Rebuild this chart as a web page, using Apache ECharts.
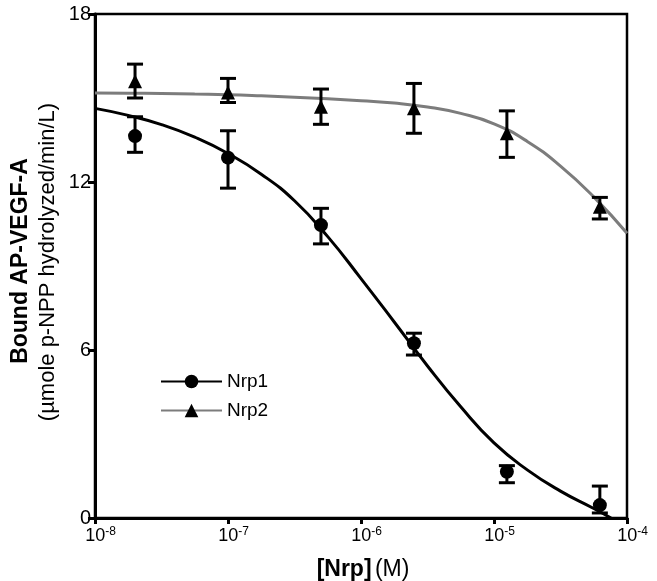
<!DOCTYPE html>
<html><head><meta charset="utf-8">
<script src="https://cdn.jsdelivr.net/npm/echarts@6/dist/echarts.min.js"></script>
<style>html,body{margin:0;padding:0;background:#fff}#c{width:657px;height:581px}</style>
</head><body><div id="c"></div>
<script>
// ---- data ----
const concentrations = [2e-8, 1e-7, 5e-7, 2.5e-6, 1.25e-5, 6.25e-5];
const nrp1Mean  = [13.64, 12.87, 10.46, 6.24, 1.65, 0.46];
const nrp1Upper = [14.33, 13.83, 11.06, 6.60, 1.87, 1.14];
const nrp1Lower = [13.06, 11.78, 9.79, 5.82, 1.26, 0.18];
const nrp2Mean  = [15.60, 15.20, 14.69, 14.63, 13.74, 11.12];
const nrp2Upper = [16.21, 15.70, 15.32, 15.52, 14.54, 11.45];
const nrp2Lower = [15.00, 14.84, 14.06, 13.74, 12.88, 10.68];
// fitted curves (x as powers of ten)
const nrp1FitExp = [-8, -7.75, -7.5, -7.25, -7, -6.75, -6.5, -6.25, -6, -5.75, -5.5, -5.25, -5, -4.75, -4.5, -4.25, -4.12];
const nrp1FitY   = [14.63, 14.38, 14.05, 13.6, 13.02, 12.28, 11.33, 10.05, 8.55, 7.0, 5.43, 3.97, 2.68, 1.72, 0.96, 0.34, 0];
const nrp2FitExp = [-8, -7.75, -7.5, -7.25, -7, -6.75, -6.5, -6.25, -6, -5.75, -5.5, -5.25, -5, -4.75, -4.5, -4.25, -4];
const nrp2FitY   = [15.18, 15.17, 15.16, 15.14, 15.12, 15.08, 15.03, 14.97, 14.9, 14.82, 14.68, 14.45, 14.08, 13.45, 12.57, 11.47, 10.17];
const xTickExp = [-8, -7, -6, -5, -4];
const xTickSup = ['-8', '-7', '-6', '-5', '-4'];
const yTicks = [0, 6, 12, 18];
const seriesNames = ['Nrp1', 'Nrp2'];

const FONT = 'Liberation Sans, Arial, Helvetica, sans-serif';
const GRAY = '#7c7c7c';

function errSeries(name, lower, upper) {
  return {
    type: 'custom', name: name, z: 4,
    data: concentrations.map((c, i) => [c, lower[i], upper[i]]),
    renderItem: function (params, api) {
      const x = api.value(0);
      const lo = api.coord([x, api.value(1)]);
      const hi = api.coord([x, api.value(2)]);
      const hw = 8;
      const st = { stroke: '#000', lineWidth: 3 };
      return { type: 'group', children: [
        { type: 'line', shape: { x1: lo[0], y1: lo[1], x2: hi[0], y2: hi[1] }, style: st },
        { type: 'line', shape: { x1: lo[0] - hw, y1: lo[1], x2: lo[0] + hw, y2: lo[1] }, style: st },
        { type: 'line', shape: { x1: hi[0] - hw, y1: hi[1], x2: hi[0] + hw, y2: hi[1] }, style: st }
      ]};
    }
  };
}

const chart = echarts.init(document.getElementById('c'), null, { renderer: 'canvas' });
chart.setOption({
  animation: false,
  backgroundColor: '#fff',
  grid: { left: 95, right: 30, top: 14, bottom: 63, show: true, borderColor: '#000', borderWidth: 2.5 },
  legend: {
    left: 155, top: 367, orient: 'vertical', itemWidth: 61, itemHeight: 17, itemGap: 10,
    textStyle: { fontFamily: FONT, fontSize: 19, color: '#000' },
    data: [
      { name: seriesNames[0], itemStyle: { color: '#000' } },
      { name: seriesNames[1], itemStyle: { color: '#000' } }
    ]
  },
  xAxis: {
    type: 'log', logBase: 10, min: Math.pow(10, xTickExp[0]), max: Math.pow(10, xTickExp[xTickExp.length - 1]), interval: 1,
    axisLine: { lineStyle: { color: '#000', width: 3 } },
    axisTick: { length: 6, lineStyle: { color: '#000', width: 3 } },
    minorTick: { show: false },
    splitLine: { show: false },
    axisLabel: {
      margin: 8, color: '#000',
      formatter: function (v) {
        const e = Math.round(Math.log10(v));
        const i = xTickExp.indexOf(e);
        return '{b|10}{s|' + xTickSup[i] + '}';
      },
      rich: {
        b: { fontFamily: FONT, fontSize: 18, color: '#000', padding: [0, 0, 0, 11] },
        s: { fontFamily: FONT, fontSize: 12, color: '#000', padding: [0, 0, 9, 0] }
      }
    }
  },
  yAxis: {
    type: 'value', min: yTicks[0], max: yTicks[yTicks.length - 1], interval: 6,
    axisLine: { show: true, lineStyle: { color: '#000', width: 3 } },
    axisTick: { show: true, length: 7, lineStyle: { color: '#000', width: 3 } },
    splitLine: { show: false },
    axisLabel: { margin: 4, fontFamily: FONT, fontSize: 20, color: '#000' }
  },
  graphic: [
    { type: 'text', x: 21, y: 261, rotation: Math.PI / 2,
      style: { text: 'Bound AP-VEGF-A', font: 'bold 23px ' + FONT, fill: '#000', align: 'center', verticalAlign: 'middle' } },
    { type: 'text', x: 48, y: 262, rotation: Math.PI / 2,
      style: { text: '(µmole p-NPP hydrolyzed/min/L)', font: '22px ' + FONT, fill: '#000', align: 'center', verticalAlign: 'middle' } },
    { type: 'text', x: 363, y: 570,
      style: { text: '{b|[Nrp]} {n|(M)}', align: 'center', verticalAlign: 'middle',
        rich: { b: { fontFamily: FONT, fontWeight: 'bold', fontSize: 23, fill: '#000' },
                n: { fontFamily: FONT, fontSize: 23, fill: '#000' } } } }
  ],
  series: [
    { type: 'line', name: seriesNames[0], smooth: 0.5, showSymbol: false, symbol: 'circle', z: 2,
      data: nrp1FitExp.map((e, i) => [Math.pow(10, e), nrp1FitY[i]]),
      lineStyle: { color: '#000', width: 3 }, itemStyle: { color: '#000' } },
    { type: 'line', name: seriesNames[1], smooth: 0.5, showSymbol: false, symbol: 'triangle', z: 2,
      data: nrp2FitExp.map((e, i) => [Math.pow(10, e), nrp2FitY[i]]),
      lineStyle: { color: GRAY, width: 3 }, itemStyle: { color: '#000' } },
    errSeries('Nrp1 error', nrp1Lower, nrp1Upper),
    errSeries('Nrp2 error', nrp2Lower, nrp2Upper),
    { type: 'scatter', name: 'Nrp1 points', symbol: 'circle', symbolSize: 14, z: 5,
      data: concentrations.map((c, i) => [c, nrp1Mean[i]]), itemStyle: { color: '#000', opacity: 1 } },
    { type: 'scatter', name: 'Nrp2 points', symbol: 'triangle', symbolSize: 14, z: 5,
      data: concentrations.map((c, i) => [c, nrp2Mean[i]]), itemStyle: { color: '#000', opacity: 1 } }
  ]
});
</script>
</body></html>
